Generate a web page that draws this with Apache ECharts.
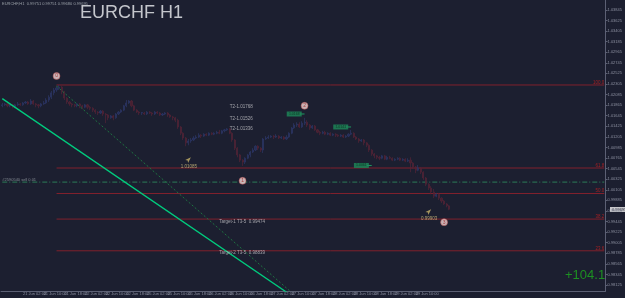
<!DOCTYPE html>
<html>
<head>
<meta charset="utf-8">
<script src="https://cdn.jsdelivr.net/npm/echarts@6/dist/echarts.min.js"></script>
<style>
html, body { margin: 0; padding: 0; background: #1c1f30; }
#main { width: 625px; height: 298px; }
</style>
</head>
<body>
<div id="main"></div>
<script>
// time axis labels, one every 8 hourly candles
var timeLabels = ['20 Jun 2012', '21 Jun 02:00', '21 Jun 10:00', '21 Jun 18:00', '22 Jun 02:00', '22 Jun 10:00',
    '22 Jun 18:00', '25 Jun 02:00', '25 Jun 10:00', '25 Jun 18:00', '26 Jun 02:00', '26 Jun 10:00', '26 Jun 18:00',
    '27 Jun 02:00', '27 Jun 10:00', '27 Jun 18:00', '28 Jun 02:00', '28 Jun 10:00', '28 Jun 18:00', '29 Jun 02:00',
    '29 Jun 10:00', '29 Jun 18:00'];

// price scale labels on the right
var priceTicks = [1.03845, 1.03625, 1.03405, 1.03185, 1.02965, 1.02745, 1.02525, 1.02305, 1.02085, 1.01865,
    1.01645, 1.01425, 1.01205, 1.00985, 1.00765, 1.00545, 1.00325, 1.00105, 0.99885, 0.99665, 0.99445, 0.99225,
    0.99005, 0.98785, 0.98565, 0.98345, 0.98125];

// H1 candles: [open, close, low, high]
var ohlc = [
    [1.0185,1.0187,1.0182,1.0191],[1.0187,1.0189,1.0185,1.0191],[1.0189,1.0185,1.0182,1.0191],[1.0185,1.0187,1.0182,1.0189],
    [1.0187,1.0182,1.0180,1.0189],[1.0182,1.0187,1.0180,1.0189],[1.0187,1.0189,1.0185,1.0193],[1.0189,1.0187,1.0185,1.0191],
    [1.0187,1.0191,1.0185,1.0193],[1.0191,1.0193,1.0189,1.0195],[1.0193,1.0189,1.0187,1.0195],[1.0189,1.0195,1.0187,1.0199],
    [1.0195,1.0189,1.0187,1.0197],[1.0189,1.0187,1.0182,1.0191],[1.0187,1.0185,1.0180,1.0189],[1.0185,1.0189,1.0182,1.0191],
    [1.0189,1.0191,1.0187,1.0195],[1.0191,1.0197,1.0189,1.0201],[1.0197,1.0203,1.0193,1.0207],[1.0203,1.0212,1.0199,1.0216],
    [1.0212,1.0218,1.0207,1.0222],[1.0218,1.0222,1.0214,1.0226],[1.0222,1.0224,1.0218,1.0228],[1.0224,1.0214,1.0209,1.0226],
    [1.0214,1.0201,1.0197,1.0216],[1.0201,1.0193,1.0189,1.0203],[1.0193,1.0189,1.0185,1.0195],[1.0189,1.0187,1.0182,1.0191],
    [1.0187,1.0185,1.0182,1.0189],[1.0185,1.0189,1.0182,1.0191],[1.0189,1.0185,1.0180,1.0191],[1.0185,1.0182,1.0178,1.0187],
    [1.0182,1.0187,1.0180,1.0189],[1.0187,1.0182,1.0178,1.0189],[1.0182,1.0180,1.0176,1.0185],[1.0180,1.0176,1.0172,1.0182],
    [1.0176,1.0172,1.0168,1.0178],[1.0172,1.0170,1.0166,1.0174],[1.0170,1.0174,1.0168,1.0176],[1.0174,1.0168,1.0164,1.0176],
    [1.0168,1.0166,1.0149,1.0170],[1.0166,1.0160,1.0155,1.0168],[1.0160,1.0164,1.0158,1.0166],[1.0164,1.0160,1.0155,1.0166],
    [1.0160,1.0168,1.0158,1.0170],[1.0168,1.0172,1.0166,1.0174],[1.0172,1.0176,1.0170,1.0178],[1.0176,1.0185,1.0174,1.0187],
    [1.0185,1.0191,1.0182,1.0197],[1.0191,1.0195,1.0189,1.0197],[1.0195,1.0185,1.0182,1.0197],[1.0185,1.0176,1.0174,1.0187],
    [1.0176,1.0172,1.0170,1.0178],[1.0172,1.0170,1.0166,1.0174],[1.0170,1.0171,1.0166,1.0172],[1.0170,1.0168,1.0166,1.0172],
    [1.0168,1.0172,1.0166,1.0174],[1.0172,1.0170,1.0168,1.0174],[1.0170,1.0168,1.0164,1.0172],[1.0168,1.0172,1.0166,1.0174],
    [1.0172,1.0170,1.0168,1.0174],[1.0170,1.0166,1.0164,1.0172],[1.0166,1.0168,1.0164,1.0170],[1.0168,1.0170,1.0166,1.0172],
    [1.0170,1.0166,1.0162,1.0172],[1.0166,1.0162,1.0160,1.0168],[1.0162,1.0160,1.0155,1.0164],[1.0160,1.0155,1.0151,1.0162],
    [1.0155,1.0141,1.0137,1.0158],[1.0141,1.0128,1.0124,1.0143],[1.0128,1.0118,1.0114,1.0130],[1.0118,1.0108,1.0101,1.0120],
    [1.0108,1.0112,1.0103,1.0116],[1.0112,1.0114,1.0108,1.0118],[1.0114,1.0118,1.0112,1.0122],[1.0118,1.0120,1.0116,1.0124],
    [1.0120,1.0124,1.0118,1.0128],[1.0124,1.0122,1.0118,1.0126],[1.0122,1.0126,1.0120,1.0128],[1.0126,1.0124,1.0122,1.0128],
    [1.0124,1.0128,1.0122,1.0130],[1.0128,1.0126,1.0124,1.0130],[1.0126,1.0128,1.0124,1.0130],[1.0128,1.0130,1.0126,1.0133],
    [1.0130,1.0128,1.0126,1.0135],[1.0128,1.0133,1.0126,1.0135],[1.0133,1.0135,1.0130,1.0137],[1.0135,1.0137,1.0133,1.0139],
    [1.0137,1.0128,1.0126,1.0139],[1.0128,1.0114,1.0110,1.0130],[1.0114,1.0097,1.0093,1.0116],[1.0097,1.0083,1.0078,1.0099],
    [1.0083,1.0072,1.0068,1.0085],[1.0072,1.0068,1.0060,1.0074],[1.0068,1.0076,1.0064,1.0078],[1.0076,1.0083,1.0074,1.0085],
    [1.0083,1.0089,1.0078,1.0091],[1.0089,1.0093,1.0087,1.0097],[1.0093,1.0101,1.0091,1.0103],[1.0101,1.0097,1.0093,1.0103],
    [1.0097,1.0093,1.0089,1.0099],[1.0093,1.0116,1.0087,1.0118],[1.0116,1.0118,1.0114,1.0122],[1.0118,1.0120,1.0116,1.0124],
    [1.0120,1.0122,1.0118,1.0124],[1.0122,1.0120,1.0116,1.0124],[1.0120,1.0122,1.0118,1.0126],[1.0122,1.0118,1.0116,1.0124],
    [1.0118,1.0120,1.0116,1.0122],[1.0120,1.0116,1.0114,1.0122],[1.0116,1.0120,1.0114,1.0124],[1.0120,1.0128,1.0118,1.0130],
    [1.0128,1.0139,1.0126,1.0141],[1.0139,1.0145,1.0137,1.0149],[1.0145,1.0147,1.0141,1.0151],[1.0147,1.0141,1.0139,1.0151],
    [1.0141,1.0149,1.0139,1.0153],[1.0149,1.0151,1.0145,1.0160],[1.0151,1.0145,1.0141,1.0155],[1.0145,1.0139,1.0135,1.0147],
    [1.0139,1.0143,1.0137,1.0145],[1.0143,1.0135,1.0133,1.0145],[1.0135,1.0130,1.0128,1.0137],[1.0130,1.0128,1.0124,1.0133],
    [1.0128,1.0130,1.0126,1.0133],[1.0130,1.0126,1.0124,1.0133],[1.0126,1.0128,1.0124,1.0130],[1.0128,1.0124,1.0122,1.0130],
    [1.0124,1.0126,1.0122,1.0128],[1.0126,1.0124,1.0120,1.0128],[1.0124,1.0122,1.0120,1.0126],[1.0122,1.0124,1.0120,1.0126],
    [1.0124,1.0120,1.0118,1.0126],[1.0120,1.0122,1.0118,1.0124],[1.0122,1.0126,1.0120,1.0128],[1.0126,1.0128,1.0124,1.0135],
    [1.0128,1.0120,1.0118,1.0130],[1.0120,1.0116,1.0114,1.0122],[1.0116,1.0112,1.0108,1.0118],[1.0112,1.0114,1.0110,1.0116],
    [1.0114,1.0108,1.0103,1.0116],[1.0108,1.0103,1.0099,1.0110],[1.0103,1.0093,1.0089,1.0105],[1.0093,1.0085,1.0081,1.0095],
    [1.0085,1.0081,1.0076,1.0087],[1.0081,1.0078,1.0074,1.0083],[1.0078,1.0076,1.0072,1.0081],[1.0076,1.0081,1.0074,1.0083],
    [1.0081,1.0074,1.0072,1.0083],[1.0074,1.0078,1.0072,1.0081],[1.0078,1.0076,1.0074,1.0081],[1.0076,1.0072,1.0070,1.0078],
    [1.0072,1.0074,1.0070,1.0076],[1.0074,1.0076,1.0072,1.0078],[1.0076,1.0072,1.0070,1.0078],[1.0072,1.0074,1.0070,1.0076],
    [1.0074,1.0070,1.0068,1.0076],[1.0070,1.0072,1.0068,1.0076],[1.0072,1.0066,1.0047,1.0078],[1.0066,1.0058,1.0054,1.0068],
    [1.0058,1.0051,1.0045,1.0060],[1.0051,1.0056,1.0049,1.0062],[1.0056,1.0047,1.0043,1.0058],[1.0047,1.0035,1.0031,1.0049],
    [1.0035,1.0022,1.0018,1.0037],[1.0022,1.0014,1.0010,1.0024],[1.0014,1.0006,1.0001,1.0018],[1.0006,0.9997,0.9993,1.0012],
    [0.9997,1.0001,0.9995,1.0004],[1.0001,0.9993,0.9989,1.0004],[0.9993,0.9987,0.9983,0.9995],[0.9987,0.9981,0.9979,0.9989],
    [0.9981,0.9977,0.9974,0.9983],[0.9977,0.9970,0.9968,0.9979]
];

// fibonacci levels drawn from the top (wave 0)
var fibNames = ['100.0', '61.8', '50.0', '38.2', '23.6'];
var fibPrices = [1.02283, 1.00557, 1.00027, 0.99495, 0.98836];
var fibStart = 21;

// zigzag wave marks: [candle, price, label]
var waves = [[21, 1.0247, '0'], [93, 1.0029, '1'], [117, 1.0185, '2'], [171, 0.9943, '3']];
// green price tags
var tags = [[113, 1.0168, '1.0168'], [131, 1.0141, '1.0141'], [139, 1.0061, '1.0061']];
// low/high arrows with prices
var arrows = [[73, 1.0078, '1.01085'], [166, 0.9970, '0.99903']];
// text objects
var notes = [[88, 1.0182, 'T2-1.01768'], [88, 1.0158, 'T2-1.01526'], [88, 1.0137, 'T2-1.01336'],
    [84, 0.9943, 'Target-1 T3-5  0.99474'], [84, 0.9879, 'Target-2 T3-5  0.98839']];
// trend lines: two points each
var trendBright = [[0, 1.0200], [120, 0.9761]];
var trendDotted = [[21, 1.0226], [120, 0.9759]];
var orderPrice = 1.00264;
var orderText = '#2590540 sell 0.01';
var bidPrice = 0.99695;

var nCats = 234;
var cats = [];
for (var i = 0; i < nCats; i++) cats.push('c' + i);

var font = 'Liberation Sans';

function hLine(from, v, style) {
    return {
        type: 'line',
        data: [[from, v], [nCats - 1, v]],
        showSymbol: false,
        silent: true,
        lineStyle: style,
        z: 1
    };
}

var fibSeries = fibPrices.map(function (v) {
    return hLine(fibStart, v, { color: '#80202c', width: 1 });
});
var fibLabels = fibPrices.map(function (v, k) {
    return [nCats - 1, v, fibNames[k]];
});
var tagTails = tags.map(function (t) {
    return {
        type: 'line',
        data: [[t[0] + 2, t[1]], [t[0] + 4, t[1]]],
        showSymbol: false,
        silent: true,
        lineStyle: { color: '#1e9a62', width: 1 }
    };
});

var myChart = echarts.init(document.getElementById('main'));

var option = {
    backgroundColor: '#1c1f30',
    animation: false,
    grid: { left: 1, right: 15, top: 0, bottom: 7 },
    xAxis: {
        type: 'category',
        data: cats,
        axisLine: { lineStyle: { color: '#5c6074' } },
        axisTick: {
            length: 2,
            lineStyle: { color: '#5c6074' },
            interval: function (i) { return i % 8 === 0 && i / 8 < timeLabels.length; }
        },
        axisLabel: {
            margin: 1,
            fontSize: 4,
            fontFamily: font,
            color: '#8c90a0',
            align: 'left',
            interval: function (i) { return i % 8 === 0 && i / 8 < timeLabels.length; },
            formatter: function (v, i) { return timeLabels[i / 8] || ''; }
        },
        splitLine: { show: false }
    },
    yAxis: {
        type: 'value',
        position: 'right',
        min: 0.9800,
        max: 1.0405,
        axisLine: { show: true, lineStyle: { color: '#5c6074' } },
        axisTick: { show: true, length: 2, customValues: priceTicks, lineStyle: { color: '#5c6074' } },
        axisLabel: {
            margin: 2,
            fontSize: 4,
            fontFamily: font,
            color: '#8c90a0',
            customValues: priceTicks,
            formatter: function (v) { return v.toFixed(5); }
        },
        splitLine: { show: false }
    },
    series: fibSeries.concat([
        hLine(0, orderPrice, { color: '#2c7c58', type: [5, 2, 1, 2], width: 1 }),
    {
        type: 'candlestick',
        data: ohlc,
        barWidth: 1.6,
        z: 2,
        itemStyle: {
            color: '#252d56',
            color0: '#47202f',
            borderColor: '#2c3666',
            borderColor0: '#532436',
            borderWidth: 0.7
        }
    }, {
        type: 'line',
        data: trendBright,
        showSymbol: false,
        lineStyle: { color: '#00cc7e', width: 1.3 },
        z: 3,
        clip: true
    }, {
        type: 'line',
        data: trendDotted,
        showSymbol: false,
        lineStyle: { color: '#1f7442', width: 1, type: [2, 2] },
        z: 3,
        clip: true
    }]).concat(tagTails).concat([{
        type: 'scatter',
        data: waves,
        symbolSize: 7,
        z: 4,
        itemStyle: { color: '#f2d6d6', borderColor: '#b84848', borderWidth: 0.6 },
        label: {
            show: true,
            position: 'inside',
            fontSize: 5,
            fontFamily: font,
            color: '#a02020',
            formatter: function (p) { return p.value[2]; }
        }
    }, {
        type: 'scatter',
        data: tags,
        symbol: 'rect',
        symbolSize: [15, 5],
        z: 4,
        itemStyle: { color: '#1e8a5a' },
        label: {
            show: true,
            position: 'inside',
            fontSize: 3.5,
            fontFamily: font,
            color: '#0b2a1c',
            formatter: function (p) { return p.value[2]; }
        }
    }, {
        type: 'scatter',
        data: arrows,
        symbol: 'arrow',
        symbolSize: [3, 6],
        symbolRotate: -45,
        z: 4,
        itemStyle: { color: '#c8b46a' },
        label: {
            show: true,
            position: 'bottom',
            distance: 1,
            fontSize: 4.5,
            fontFamily: font,
            color: '#d2c27e',
            formatter: function (p) { return p.value[2]; }
        }
    }, {
        type: 'scatter',
        data: notes,
        symbolSize: 0,
        z: 4,
        label: {
            show: true,
            position: 'right',
            distance: 0,
            fontSize: 4.5,
            fontFamily: font,
            color: '#c4c4c8',
            formatter: function (p) { return p.value[2]; }
        }
    }, {
        type: 'scatter',
        data: fibLabels,
        symbolSize: 0,
        z: 4,
        label: {
            show: true,
            position: 'top',
            align: 'right',
            distance: 0,
            fontSize: 4.5,
            fontFamily: font,
            color: '#c42020',
            formatter: function (p) { return p.value[2]; }
        }
    }, {
        type: 'scatter',
        data: [[0, orderPrice, orderText]],
        symbolSize: 0,
        z: 4,
        label: {
            show: true,
            position: 'top',
            align: 'left',
            distance: 0,
            fontSize: 4,
            fontFamily: font,
            color: '#9aa0a8',
            formatter: function (p) { return p.value[2]; }
        }
    }]),
    graphic: [{
        type: 'text',
        left: 2,
        top: 2,
        style: { text: 'EURCHF,H1  0.99751 0.99751 0.99680 0.99695', fontSize: 4, fontFamily: font, fill: '#9aa0a8' }
    }, {
        type: 'text',
        left: 80,
        top: 4,
        style: { text: 'EURCHF H1', fontSize: 18, fontFamily: font, fill: '#c4c6cc' }
    }, {
        type: 'text',
        left: 565,
        top: 269,
        style: { text: '+104.1', fontSize: 13, fontFamily: font, fill: '#1d8f22' }
    }]
};

myChart.setOption(option);

// bid price box on the price scale
var bidY = myChart.convertToPixel({ yAxisIndex: 0 }, bidPrice);
myChart.setOption({
    graphic: option.graphic.concat([{
        type: 'rect',
        shape: { x: 610, y: bidY - 2.5, width: 15, height: 5 },
        style: { fill: '#c8c8cc' }
    }, {
        type: 'text',
        x: 612,
        y: bidY - 2,
        style: { text: bidPrice.toFixed(5), fontSize: 4, fontFamily: font, fill: '#1c1f30' }
    }])
});
</script>
</body>
</html>
